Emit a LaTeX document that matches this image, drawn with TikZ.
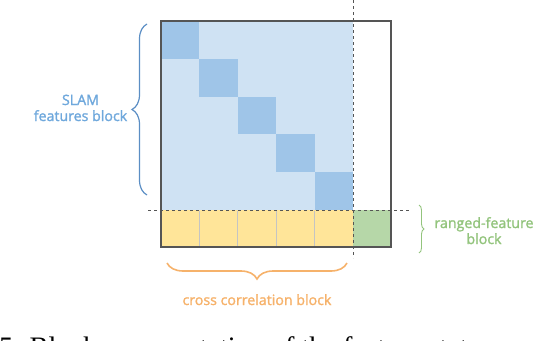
\documentclass[tikz,border=0pt]{standalone}
\usepackage{fontspec}
\setmainfont{Liberation Serif}
\newfontfamily\lblfont{Open Sans}[FakeBold=1.6]
\usetikzlibrary{decorations.pathreplacing}
\definecolor{cellblue}{HTML}{CFE2F3}
\definecolor{diagblue}{HTML}{9FC5E8}
\definecolor{cellyellow}{HTML}{FFE599}
\definecolor{cellgreen}{HTML}{B6D7A8}
\definecolor{boxgray}{HTML}{555555}
\definecolor{divgray}{HTML}{C4C4C4}
\definecolor{bluetext}{HTML}{6FA8DC}
\definecolor{bluebrace}{HTML}{5B8EC4}
\definecolor{orangetext}{HTML}{F6B26B}
\definecolor{greentext}{HTML}{93C47D}
\tikzset{
  boxline/.style={draw=boxgray,line width=1.1pt},
  divline/.style={draw=divgray,line width=1.3pt},
  dashline/.style={draw=boxgray,line width=0.7pt,dash pattern=on 3pt off 3pt},
  lbl/.style={inner sep=0pt,anchor=base,font=\lblfont\fontsize{14.2}{16}\selectfont},
  bracestyle/.style={decorate,decoration={brace,amplitude=#1}},
}
\begin{document}
\begin{tikzpicture}[x=1pt,y=-1pt]
\useasboundingbox (0,0) rectangle (554,340);
\clip (0,0) rectangle (554,340);
% matrix blocks
\fill[cellblue] (161,21) rectangle (353,210);
\foreach \i in {0,...,4}
  \fill[diagblue] ({161+38.4*\i},{21+37.8*\i}) rectangle ({161+38.4*(\i+1)},{21+37.8*(\i+1)});
\fill[cellyellow] (161,210) rectangle (353,247);
\fill[cellgreen] (353,210) rectangle (391,247);
\foreach \i in {1,...,4}
  \draw[divline] ({161+38.4*\i},210.5) -- ({161+38.4*\i},246.5);
\draw[boxline] (161,21) rectangle (391,247);
% dashed separators
\coordinate (vtop) at (353,0);
\coordinate (vbot) at (353,258);
\coordinate (hleft) at (148,210);
\coordinate (hright) at (411,210);
\draw[dashline] (vtop) -- (vbot);
\draw[dashline] (hleft) -- (hright);
% braces
\coordinate (lb1) at (147,195);
\coordinate (lb2) at (147,24);
\draw[bracestyle=15pt,draw=bluebrace,line width=1.2pt] (lb1) -- (lb2);
\coordinate (bb1) at (347,263);
\coordinate (bb2) at (167,263);
\draw[bracestyle=16pt,draw=orangetext,line width=1.6pt] (bb1) -- (bb2);
\coordinate (rb1) at (419,205);
\coordinate (rb2) at (419,253);
\draw[bracestyle=5pt,draw=greentext,line width=0.9pt] (rb1) -- (rb2);
% labels
\node[lbl,text=bluetext] (slam) at (80.5,105) {SLAM};
\node[lbl,text=bluetext] (feat) at (80.5,121) {features block};
\node[lbl,text=orangetext] (cross) at (257,305) {cross correlation block};
\node[lbl,text=greentext] (ranged) at (484,228) {ranged-feature};
\node[lbl,text=greentext] (rblock) at (484,244) {block};
% caption (cut off by the image edge)
\node[inner sep=0pt,anchor=base west,font=\fontsize{28.2}{30}\selectfont] (caption) at (-1,356) {5. Block representation of the feature state};
\end{tikzpicture}
\end{document}
